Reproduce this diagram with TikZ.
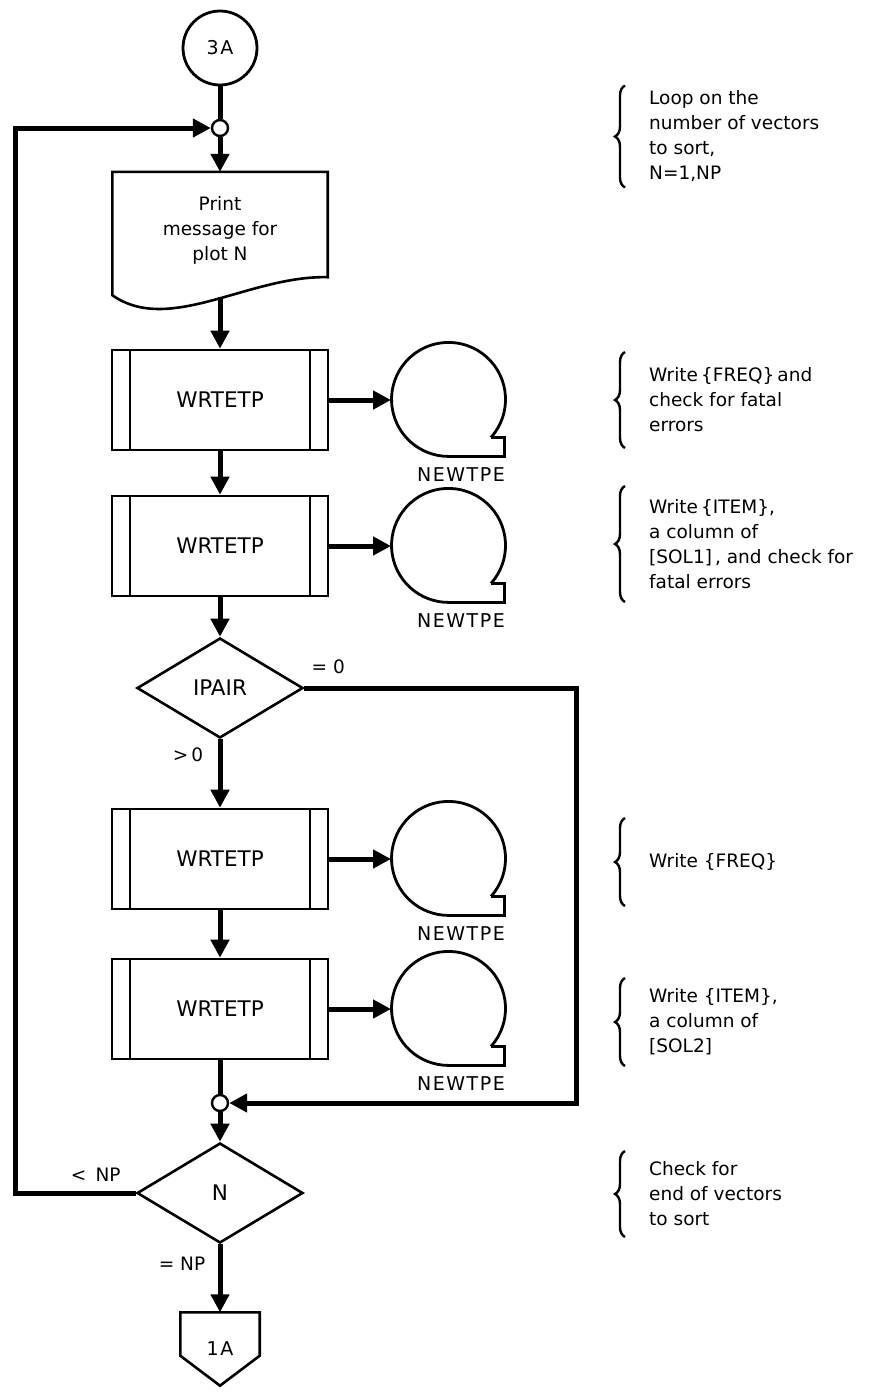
\documentclass[tikz,border=0pt]{standalone}
\usepackage{fontspec}
\setmainfont{DejaVu Sans}
\newfontfamily\capsfont{DejaVu Sans}[LetterSpace=8]
\usepackage{tikz}
\usetikzlibrary{arrows.meta,positioning,calc,shapes.geometric,decorations.pathreplacing}

\tikzset{
  txt/.style={font=\fontsize{18.5}{25}\selectfont},
  boxtxt/.style={font=\fontsize{21.5}{26}\selectfont},
  caps/.style={font=\fontsize{19}{25}\selectfont\capsfont},
  wire/.style={line width=5pt},
  conn/.style={line width=5pt,-{Triangle[length=18pt,width=18pt]}},
  procbox/.style={draw,line width=2.6pt,minimum width=216pt,minimum height=100pt,inner sep=0pt,boxtxt,
    path picture={
      \draw[line width=2.6pt] ([xshift=18pt]path picture bounding box.north west) -- ([xshift=18pt]path picture bounding box.south west);
      \draw[line width=2.6pt] ([xshift=-18pt]path picture bounding box.north east) -- ([xshift=-18pt]path picture bounding box.south east);}},
  decide/.style={diamond,draw,line width=2.6pt,minimum width=166pt,minimum height=100pt,aspect=1.66,inner sep=0pt,boxtxt},
  joint/.style={circle,draw,fill=white,line width=2.4pt,minimum size=16pt,inner sep=0pt},
  tapeunit/.style={circle,minimum size=114pt,inner sep=0pt,outer sep=0pt},
  note/.style={txt,anchor=west,align=left,inner sep=0pt},
  notebrace/.style={decorate,decoration={brace,amplitude=10pt},line width=2.4pt},
}

\begin{document}
\begin{tikzpicture}[x=1pt,y=1pt]
  \useasboundingbox (0,0) rectangle (893,-1393);
  % main column
  \node[circle,draw,line width=2.8pt,minimum size=74pt,inner sep=0pt,caps] (start) at (220,-48) {3A};
  \node[joint] (j1) at (220,-128) {};
  \node[txt,align=center,minimum width=215pt,minimum height=105pt,inner sep=0pt] (print) at (220,-224.5) {\rule{0pt}{26pt}Print\\message for\\plot N};
  \draw[line width=2.6pt] (print.south east) -- (print.north east) -- (print.north west)
    -- ($(print.south west)+(0,-18)$) .. controls ($(print.south west)+(57,-58)$) and ($(print.south west)+(137,2)$) .. (print.south east) -- cycle;
  \coordinate (pb) at ($(print.south)+(0,-20)$);
  \node[procbox] (w1) at (220,-400) {WRTETP};
  \node[procbox] (w2) at (220,-546) {WRTETP};
  \node[decide] (ipair) at (220,-688) {IPAIR};
  \node[procbox] (w3) at (220,-859) {WRTETP};
  \node[procbox] (w4) at (220,-1009) {WRTETP};
  \node[joint] (j2) at (220,-1103) {};
  \node[decide] (n) at (220,-1193) {N};
  \node[caps,minimum width=79pt,minimum height=73pt,inner sep=0pt] (off) at (220,-1349) {1A};
  \draw[line width=2.6pt] (off.north west) -- (off.north east) -- ($(off.south east)+(0,30)$)
    -- (off.south) -- ($(off.south west)+(0,30)$) -- cycle;
  % tapes
  \foreach \k/\y in {1/400,2/546,3/859,4/1009} {
    \node[tapeunit] (t\k) at (448,-\y) {};
    \node[caps,anchor=base east,inner sep=0pt] (lab\k) at ($(t\k.center)+(57,-81)$) {NEWTPE};
    \draw[line width=2.8pt] (t\k.-41.8) arc[start angle=-41.8,end angle=270,radius=57pt] -- ++(56,0) |- (t\k.-41.8);
  }
  % branch labels
  \node[txt] (gt) at ($(ipair.south)+(-32,-15)$) {>\,0};
  \node[txt] (z) at ($(ipair.east)+(24,21)$) {= 0};
  \node[txt] (lt) at ($(n.west)+(-40,18)$) {<\enspace NP};
  \node[txt] (eq) at ($(n.south)+(-38,-19)$) {= NP};
  % connectors
  \draw[wire] (start.south) -- (j1.north);
  \draw[conn] (j1.south) -- (print.north);
  \draw[conn] (pb) -- (w1.north);
  \draw[conn] (w1) -- (w2);
  \draw[conn] (w2) -- (ipair.north);
  \draw[conn] (ipair.south) -- (w3.north);
  \draw[conn] (w3) -- (w4);
  \draw[wire] (w4.south) -- (j2.north);
  \draw[conn] (j2.south) -- (n.north);
  \draw[conn] (n.south) -- (off.north);
  \draw[conn] (n.west) -- ++(-120,0) |- (j1.west);
  \draw[conn] (ipair.east) -- ++(272,0) |- (j2.east);
  \foreach \k in {1,...,4} \draw[conn] (w\k.east) -- (t\k.west);
  % notes
  \node[note] (a0) at (649,-136.5) {Loop on the\\number of vectors\\to sort,\\N=1,NP};
  \node[note] (a1) at (649,-400) {Write\,\{FREQ\}\,and\\check for fatal\\errors};
  \node[note] (a2) at (649,-544) {Write\,\{ITEM\},\\a column of\\{}[SOL1]\,, and check for\\fatal errors};
  \node[note] (a3) at (649,-862) {Write \{FREQ\}};
  \node[note] (a4) at (649,-1022) {Write \{ITEM\},\\a column of\\{}[SOL2]};
  \node[note] (a5) at (649,-1194) {Check for\\end of vectors\\to sort};
  \foreach \a/\h in {a0/51,a1/48,a2/58,a3/44,a4/44,a5/43}
    \draw[notebrace] ($(\a.west)+(-24,-\h)$) -- ($(\a.west)+(-24,\h)$);
\end{tikzpicture}
\end{document}
